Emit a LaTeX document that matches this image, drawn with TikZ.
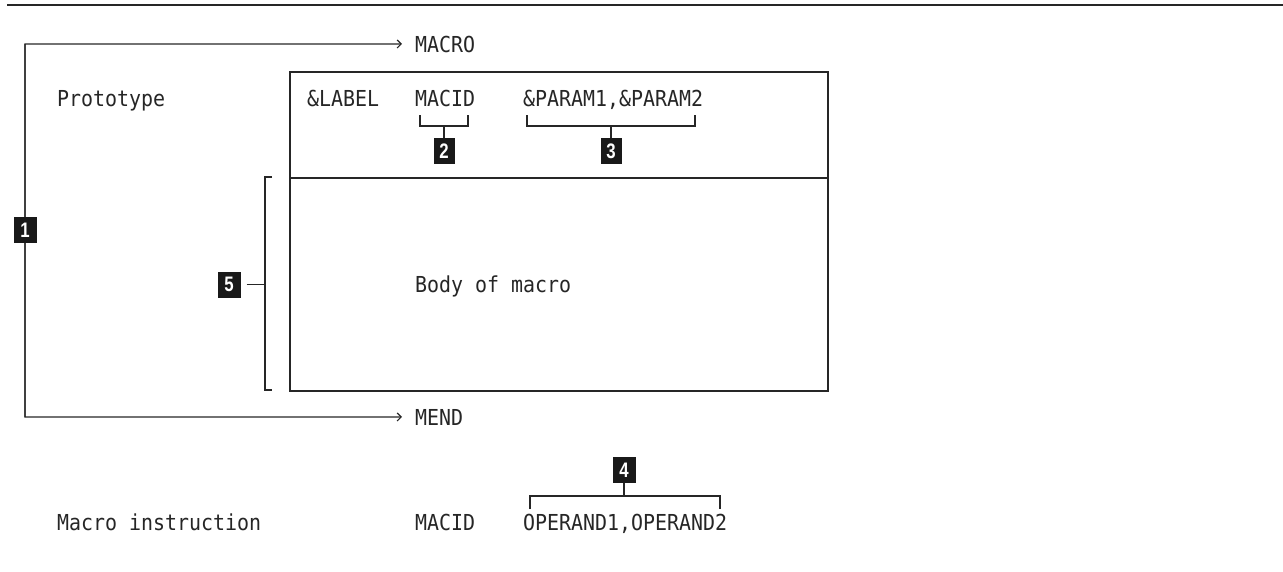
\documentclass[tikz,border=0pt]{standalone}
\usepackage{fontspec}
\newfontfamily\monofnt[FakeStretch=0.906]{DejaVu Sans Mono}
\newfontfamily\numfnt[FakeStretch=0.8]{Liberation Sans}
\usetikzlibrary{arrows.meta}
\definecolor{ink}{HTML}{262626}
\tikzset{
  txt/.style={inner sep=0pt, anchor=base west, text=ink, font=\monofnt\fontsize{22}{26}\selectfont},
  thinln/.style={draw=ink, line width=1.3pt},
  boxln/.style={draw=ink, line width=1.8pt},
  arrln/.style={thinln, -{Straight Barb[length=4pt,width=8pt,line width=1.2pt]}, shorten >=13pt},
  numbox/.style={fill=black!90, text=white, inner sep=0pt, minimum width=23pt, minimum height=26pt,
    font=\numfnt\bfseries\fontsize{21}{22}\selectfont},
}
\begin{document}
\begin{tikzpicture}[x=1pt,y=-1pt]
\useasboundingbox (0,0) rectangle (1283,571);
% top rule
\coordinate (rl) at (7,4.5);
\coordinate (rr) at (1283,4.5);
\draw[draw=ink, line width=2pt] (rl) -- (rr);

% texts
\node[txt] (tmacro) at (415,52) {MACRO};
\node[txt] (tmend) at (415,425) {MEND};
\node[txt] (tproto) at (57,106) {Prototype};
\node[txt] (tlabel) at (307,106) {\&LABEL};
\node[txt] (tmacid) at (415,106) {MACID};
\node[txt] (tparam) at (523,106) {\&PARAM1,\&PARAM2};
\node[txt] (tinstr) at (57,530) {Macro instruction};
\node[txt] (tmacid2) at (415,530) {MACID};
\node[txt] (toper) at (523,530) {OPERAND1,OPERAND2};

% main box
\node[boxln, anchor=north west, minimum width=538pt, minimum height=106pt, inner sep=0pt] (hdr) at (289,71) {};
\node[boxln, anchor=north west, minimum width=538pt, minimum height=213pt, inner sep=0pt] (bodyb) at (289,177) {};
\node[txt] (tbody) at (415,292) {Body of macro};

% outer bracket with arrows
\coordinate (otl) at (25,44);
\coordinate (obl) at (25,417);
\draw[arrln] (obl) -- (otl) -- (tmacro.west);
\draw[arrln] (otl) -- (obl) -- (tmend.west);
\node[numbox] (b1) at (25,230) {1};

% bracket 5
\coordinate (b5t) at (265,177);
\coordinate (b5b) at (265,390);
\coordinate (b5m) at (265,284.5);
\draw[thinln] ([xshift=7pt]b5t) -- (b5t) -- (b5b) -- ([xshift=7pt]b5b);
\node[numbox] (b5) at (229,284.5) {5};
\draw[thinln, shorten <=6pt] (b5.east) -- (b5m);

% bracket 2
\node[numbox, minimum width=21pt] (b2) at (444,151) {2};
\coordinate (s2) at (444,126);
\draw[thinln] (420,115) -- (420,126) -- (468,126) -- (468,115);
\draw[thinln] (s2) -- (b2.north);

% bracket 3
\node[numbox, minimum width=21pt] (b3) at (611,151) {3};
\coordinate (s3) at (611,126);
\draw[thinln] (527,115) -- (527,126) -- (695,126) -- (695,115);
\draw[thinln] (s3) -- (b3.north);

% bracket 4
\node[numbox] (b4) at (624,470) {4};
\coordinate (s4) at (624,496);
\draw[thinln] (530,509) -- (530,496) -- (720,496) -- (720,509);
\draw[thinln] (s4) -- (b4.south);
\end{tikzpicture}
\end{document}
